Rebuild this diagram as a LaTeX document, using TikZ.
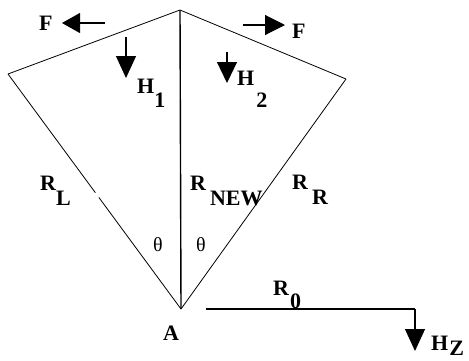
\documentclass[tikz,border=0pt]{standalone}
\usepackage{fontspec}
\setmainfont{Liberation Serif}
\usetikzlibrary{arrows.meta,calc}
\tikzset{
  lbl/.style={anchor=base west, inner sep=0pt, font=\fontsize{22}{22}\selectfont\bfseries},
  ang/.style={inner sep=0pt, font=\fontsize{20}{20}\selectfont},
  edge/.style={line width=0.8pt},
  mast/.style={line width=1.4pt},
  bar/.style={line width=1.3pt},
  force/.style={line width=1.1pt, -{Triangle[length=#1, width=20pt]}},
  force/.default=20pt
}
\begin{document}
\begin{tikzpicture}[x=1pt,y=-1pt]
\useasboundingbox (0,0) rectangle (469,360);
% kite vertices
\coordinate (T) at (180,10);
\coordinate (L) at (8,74);
\coordinate (R) at (346,79);
\coordinate (A) at (181,309);
\draw[edge] (T) -- (L);
\draw[edge] (T) -- (R);
\draw[edge] (L) -- ($(L)!0.505!(A)$);
\draw[edge] ($(L)!0.525!(A)$) -- (A);
\draw[edge] (R) -- (A);
\draw[mast] (T) -- (A);
% R0 bar and Hz
\coordinate (B0) at (206,309);
\coordinate (B1) at (415,309);
\coordinate (HzTip) at (415,351);
\draw[bar] (B0) -- (B1);
\draw[force=22pt] (B1) -- (HzTip);
% forces
\coordinate (F1s) at (105,23); \coordinate (F1e) at (62,23);
\coordinate (F2s) at (243,25); \coordinate (F2e) at (285,25);
\coordinate (H1s) at (126,37); \coordinate (H1e) at (126,78);
\coordinate (H2s) at (227,52); \coordinate (H2e) at (227,83);
\draw[force=18pt] (F1s) -- (F1e);
\draw[force=20pt] (F2s) -- (F2e);
\draw[force=22pt] (H1s) -- (H1e);
\draw[force=21pt] (H2s) -- (H2e);
% labels
\node[lbl] (fl) at (39,30) {F};
\node[lbl] (fr) at (292,38) {F};
\node[lbl] (h1) at (137,93) {H\kern0pt\raisebox{-14pt}{1}};
\node[lbl] (h2) at (237,85) {H\kern2pt\raisebox{-22pt}{2}};
\node[lbl] (rl) at (40,190) {R\raisebox{-15pt}{L}};
\node[lbl] (rn) at (190,190) {R\kern4pt\raisebox{-15pt}{NEW}};
\node[lbl] (rr) at (292,189) {R\kern4pt\raisebox{-15pt}{R}};
\node[lbl] (r0) at (273,295) {R\kern1pt\raisebox{-13pt}{0}};
\node[lbl] (hz) at (431,350) {H\kern1pt\raisebox{-5pt}{Z}};
\node[lbl] (a) at (163,340) {A};
\node[ang] (t1) at (158,245) {θ};
\node[ang] (t2) at (201,245) {θ};
\end{tikzpicture}
\end{document}
